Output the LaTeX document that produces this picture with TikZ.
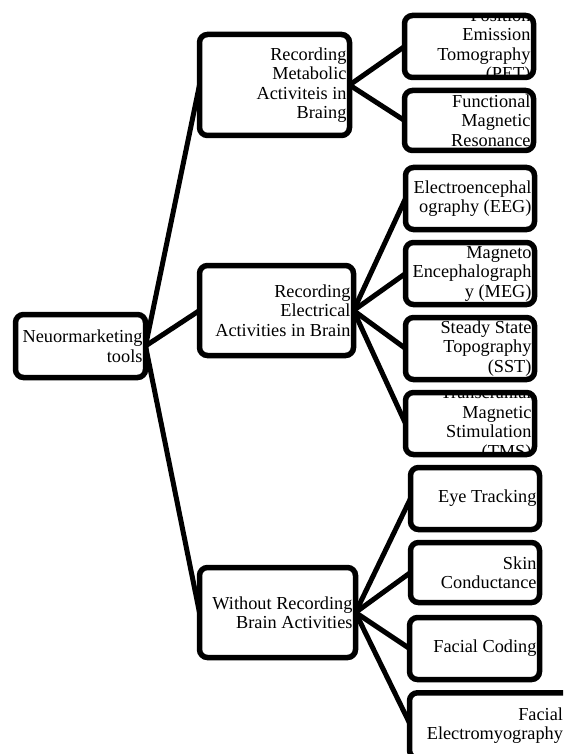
\documentclass[tikz,border=0pt]{standalone}
\usepackage{fontspec}
\setmainfont{Liberation Serif}
\tikzset{
  boxst/.style={draw=black, line width=5.5pt, rounded corners=8pt, fill=white, inner sep=0pt, outer sep=0pt},
  txt/.style={align=right, inner sep=0pt, outer sep=0pt, font=\fontsize{18.3}{19.5}\selectfont},
  conn/.style={draw=black, line width=5pt}
}
\newcommand\tb[7][3]{%
  \node[boxst, minimum width=#5pt, minimum height=#6pt] (#2) at (#3,#4) {};
  \begin{scope}
    \clip ([shift={(2.75pt,2.75pt)}]#2.south west) rectangle ([shift={(-2.75pt,-2.75pt)}]#2.north east);
    \node[txt, anchor=east] (#2t) at ([xshift=-#1pt]#2.east) {#7};
  \end{scope}
}
\begin{document}
\begin{tikzpicture}[x=1pt, y=-1pt]
\useasboundingbox (0,0) rectangle (563,754);
\clip (0,0) rectangle (563,754);
\fill[white] (0,0) rectangle (563,754);
% connectors (drawn first, boxes on top)
\coordinate (rootE) at (145.5,346);
\coordinate (metW) at (199.5,85);
\coordinate (eleW) at (199.5,310.5);
\coordinate (witW) at (199.5,612.5);
\draw[conn] (rootE) -- (metW);
\draw[conn] (rootE) -- (eleW);
\draw[conn] (rootE) -- (witW);
\coordinate (metE) at (349.5,85);
\coordinate (eleE) at (353.5,310.5);
\coordinate (witE) at (355.5,612.5);
\coordinate (petW) at (404.5,46.5);
\coordinate (fmrW) at (404.5,120.5);
\coordinate (eegW) at (405.5,198.5);
\coordinate (megW) at (405.5,273.5);
\coordinate (sstW) at (405.5,348.5);
\coordinate (tmsW) at (405.5,423.5);
\coordinate (eyeW) at (410.5,498.5);
\coordinate (skiW) at (410.5,572.5);
\coordinate (facW) at (409.5,648.5);
\coordinate (femW) at (409.5,723);
\draw[conn] (metE) -- (petW);
\draw[conn] (metE) -- (fmrW);
\draw[conn] (eleE) -- (eegW);
\draw[conn] (eleE) -- (megW);
\draw[conn] (eleE) -- (sstW);
\draw[conn] (eleE) -- (tmsW);
\draw[conn] (witE) -- (eyeW);
\draw[conn] (witE) -- (skiW);
\draw[conn] (witE) -- (facW);
\draw[conn] (witE) -- (femW);
% boxes
\tb{root}{80.5}{346}{130}{63}{Neuormarketing\\tools}
\tb{met}{274.5}{85}{150}{101}{Recording\\Metabolic\\Activiteis in\\Braing}
\tb{ele}{276.5}{310.5}{154}{90}{Recording\\Electrical\\Activities in Brain}
\tb{wit}{277.5}{612.5}{156}{90}{Without Recording\\Brain Activities}
\tb{pet}{469}{46.5}{129}{62}{Position\\Emission\\Tomography\\(PET)}
\tb{fmr}{469}{120.5}{129}{60}{Functional\\Magnetic\\Resonance}
\tb{eeg}{470}{198.5}{129}{62}{Electroencephal\\ography (EEG)}
\tb{meg}{470}{273.5}{129}{62}{Magneto\\Encephalograph\\y (MEG)}
\tb{sst}{470}{348.5}{129}{62}{Steady State\\Topography\\(SST)}
\tb{tms}{470}{423.5}{129}{62}{Transcranial\\Magnetic\\Stimulation\\(TMS)}
\tb{eye}{475}{498.5}{129}{62}{Eye Tracking}
\tb{ski}{475}{572.5}{129}{60}{Skin\\Conductance}
\tb{fac}{474.5}{648.5}{130}{62}{Facial Coding}
\tb[9]{fem}{490.75}{725.5}{162.5}{65.5}{Facial\\Electromyography}
\end{tikzpicture}
\end{document}
